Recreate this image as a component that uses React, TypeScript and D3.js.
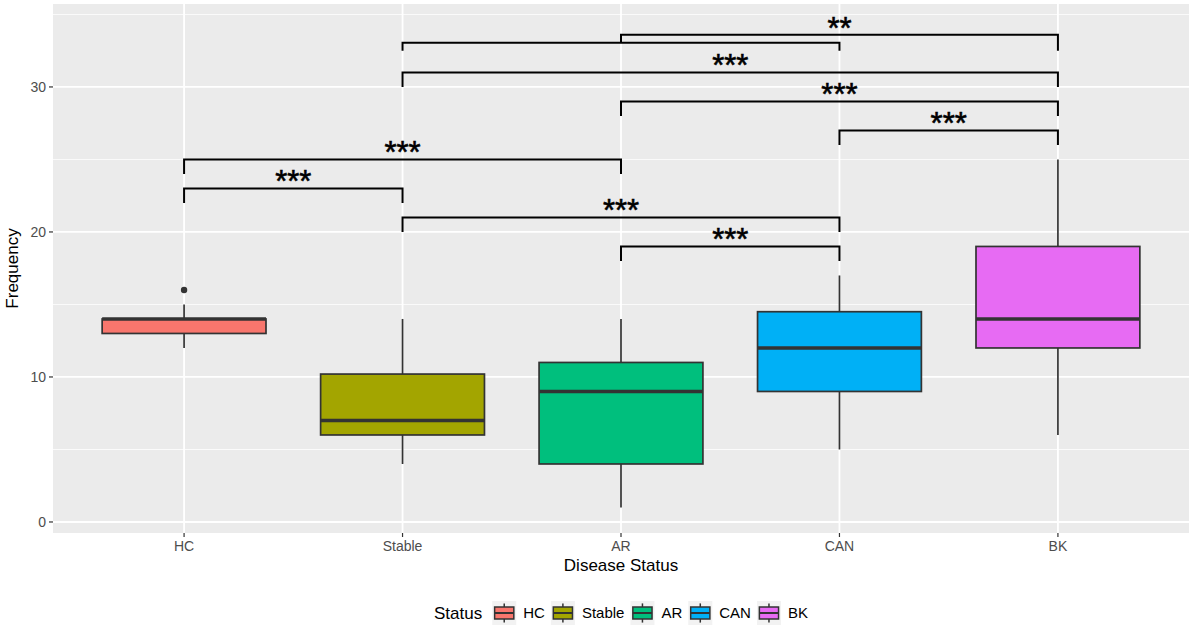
import { useRef, useEffect } from 'react';
import * as d3 from 'd3';

const categories = ['HC', 'Stable', 'AR', 'CAN', 'BK'];
const boxColors = ['#F8766D', '#A3A500', '#00BF7D', '#00B0F6', '#E76BF3'];
const q1 = [13, 6, 4, 9, 12];
const medians = [14, 7, 9, 12, 14];
const q3 = [14, 10.2, 11, 14.5, 19];
const whiskerLow = [12, 4, 1, 5, 6];
const whiskerHigh = [15, 14, 14, 17, 25];
const outliers = [{ cat: 'HC', value: 16 }];

const majorTicks = [0, 10, 20, 30];
const minorTicks = [5, 15, 25, 35];

// significance brackets: [from, to], bar height, left/right tip ends, label
const bracketPairs = [
  ['HC', 'Stable'],
  ['HC', 'AR'],
  ['Stable', 'CAN'],
  ['AR', 'CAN'],
  ['CAN', 'BK'],
  ['AR', 'BK'],
  ['Stable', 'BK'],
  ['Stable', 'CAN'],
  ['AR', 'BK'],
];
const bracketY = [23, 25, 21, 19, 27, 29, 31, 33.05, 33.6];
const bracketTipL = [22, 24, 20, 18, 26, 28, 30, 32.5, 33.05];
const bracketTipR = [22, 24, 20, 18, 26, 28, 30, 32.5, 32.5];
const bracketLabels = ['***', '***', '***', '***', '***', '***', '***', '', '**'];

const W = 1192;
const H = 627;
const FONT = '"Liberation Sans", Arial, sans-serif';

export default function App() {
  const svgRef = useRef<SVGSVGElement>(null);

  useEffect(() => {
    document.body.style.margin = '0';
    if (!svgRef.current) return;
    const svg = d3.select(svgRef.current);
    svg.selectAll('*').remove();

    const left = 53, right = 1189, top = 4, bottom = 533;

    const x = d3.scalePoint<string>().domain(categories).range([left, right]).padding(0.6);
    const y = d3.scaleLinear().domain([-0.76, 35.72]).range([bottom, top]);
    const boxW = x.step() * 0.75;

    svg.append('rect').attr('width', W).attr('height', H).attr('fill', '#fff');

    // panel
    svg.append('rect')
      .attr('x', left).attr('y', top)
      .attr('width', right - left).attr('height', bottom - top)
      .attr('fill', '#EBEBEB');

    const grid = svg.append('g');
    grid.selectAll('.minor').data(minorTicks).enter().append('line')
      .attr('x1', left).attr('x2', right)
      .attr('y1', (d) => y(d)).attr('y2', (d) => y(d))
      .attr('stroke', '#fff').attr('stroke-width', 0.8);
    grid.selectAll('.major').data(majorTicks).enter().append('line')
      .attr('x1', left).attr('x2', right)
      .attr('y1', (d) => y(d)).attr('y2', (d) => y(d))
      .attr('stroke', '#fff').attr('stroke-width', 1.8);
    grid.selectAll('.vmajor').data(categories).enter().append('line')
      .attr('x1', (d) => x(d)!).attr('x2', (d) => x(d)!)
      .attr('y1', top).attr('y2', bottom)
      .attr('stroke', '#fff').attr('stroke-width', 1.8);

    // boxes
    const data = categories.map((c, i) => ({
      cat: c, color: boxColors[i], q1: q1[i], med: medians[i], q3: q3[i],
      lo: whiskerLow[i], hi: whiskerHigh[i],
    }));
    const boxes = svg.append('g');
    const bg = boxes.selectAll('g').data(data).enter().append('g');
    bg.append('line')
      .attr('x1', (d) => x(d.cat)!).attr('x2', (d) => x(d.cat)!)
      .attr('y1', (d) => y(d.q3)).attr('y2', (d) => y(d.hi))
      .attr('stroke', '#333').attr('stroke-width', 1.7);
    bg.append('line')
      .attr('x1', (d) => x(d.cat)!).attr('x2', (d) => x(d.cat)!)
      .attr('y1', (d) => y(d.q1)).attr('y2', (d) => y(d.lo))
      .attr('stroke', '#333').attr('stroke-width', 1.7);
    bg.append('rect')
      .attr('x', (d) => x(d.cat)! - boxW / 2)
      .attr('y', (d) => y(d.q3))
      .attr('width', boxW)
      .attr('height', (d) => y(d.q1) - y(d.q3))
      .attr('fill', (d) => d.color)
      .attr('stroke', '#333').attr('stroke-width', 1.7);
    bg.append('line')
      .attr('x1', (d) => x(d.cat)! - boxW / 2).attr('x2', (d) => x(d.cat)! + boxW / 2)
      .attr('y1', (d) => y(d.med)).attr('y2', (d) => y(d.med))
      .attr('stroke', '#333').attr('stroke-width', 3.4);

    boxes.selectAll('.outlier').data(outliers).enter().append('circle')
      .attr('cx', (d) => x(d.cat)!).attr('cy', (d) => y(d.value))
      .attr('r', 3.2).attr('fill', '#333');

    // brackets
    const br = svg.append('g');
    bracketPairs.forEach(([a, b], i) => {
      const xa = x(a)!, xb = x(b)!;
      const path = d3.path();
      path.moveTo(xa, y(bracketTipL[i]));
      path.lineTo(xa, y(bracketY[i]));
      path.lineTo(xb, y(bracketY[i]));
      path.lineTo(xb, y(bracketTipR[i]));
      br.append('path')
        .attr('d', path.toString())
        .attr('fill', 'none').attr('stroke', '#000').attr('stroke-width', 2);
      if (bracketLabels[i]) {
        br.append('text')
          .attr('x', (xa + xb) / 2).attr('y', y(bracketY[i]) + 4)
          .attr('text-anchor', 'middle')
          .attr('font-family', FONT).attr('font-size', 31)
          .attr('fill', '#000').attr('stroke', '#000').attr('stroke-width', 0.6)
          .text(bracketLabels[i]);
      }
    });

    // axes
    const ax = svg.append('g').attr('font-family', FONT);
    ax.selectAll('.yt').data(majorTicks).enter().append('line')
      .attr('x1', left - 4).attr('x2', left)
      .attr('y1', (d) => y(d)).attr('y2', (d) => y(d))
      .attr('stroke', '#333').attr('stroke-width', 1.2);
    ax.selectAll('.yl').data(majorTicks).enter().append('text')
      .attr('x', left - 7).attr('y', (d) => y(d) + 5)
      .attr('text-anchor', 'end').attr('font-size', 14).attr('fill', '#4D4D4D')
      .text((d) => d);
    ax.selectAll('.xt').data(categories).enter().append('line')
      .attr('x1', (d) => x(d)!).attr('x2', (d) => x(d)!)
      .attr('y1', bottom).attr('y2', bottom + 4)
      .attr('stroke', '#333').attr('stroke-width', 1.2);
    ax.selectAll('.xl').data(categories).enter().append('text')
      .attr('x', (d) => x(d)!).attr('y', bottom + 18)
      .attr('text-anchor', 'middle').attr('font-size', 14).attr('fill', '#4D4D4D')
      .text((d) => d);

    ax.append('text')
      .attr('x', (left + right) / 2).attr('y', 571)
      .attr('text-anchor', 'middle').attr('font-size', 17).attr('fill', '#000')
      .text('Disease Status');
    ax.append('text')
      .attr('transform', `translate(18,${(top + bottom) / 2}) rotate(-90)`)
      .attr('text-anchor', 'middle').attr('font-size', 17).attr('fill', '#000')
      .text('Frequency');

    // legend
    const lg = svg.append('g').attr('font-family', FONT);
    const key = 24;
    const ly = 613;
    const title = lg.append('text').attr('y', ly + 6).attr('font-size', 17).attr('fill', '#000').text('Status');
    const titleW = (title.node() as SVGTextElement).getComputedTextLength();
    const labels = categories.map((c) => {
      const t = lg.append('text').attr('y', ly + 5).attr('font-size', 15).attr('fill', '#000').text(c);
      return { t, w: (t.node() as SVGTextElement).getComputedTextLength() };
    });
    const total = titleW + 10 + labels.reduce((s, l) => s + key + 7 + l.w, 0) + 6 * (labels.length - 1);
    let cx = (left + right) / 2 - total / 2;
    title.attr('x', cx);
    cx += titleW + 10;
    labels.forEach((l, i) => {
      const kg = lg.append('g').attr('transform', `translate(${cx},${ly - key / 2})`);
      kg.append('rect').attr('width', key).attr('height', key).attr('fill', '#F2F2F2');
      kg.append('line').attr('x1', key / 2).attr('x2', key / 2).attr('y1', key * 0.1).attr('y2', key * 0.9)
        .attr('stroke', '#333').attr('stroke-width', 1.5);
      kg.append('rect').attr('x', key * 0.1).attr('y', key * 0.25).attr('width', key * 0.8).attr('height', key * 0.5)
        .attr('fill', boxColors[i]).attr('stroke', '#333').attr('stroke-width', 1.5);
      kg.append('line').attr('x1', key * 0.1).attr('x2', key * 0.9).attr('y1', key / 2).attr('y2', key / 2)
        .attr('stroke', '#333').attr('stroke-width', 2);
      cx += key + 7;
      l.t.attr('x', cx);
      cx += l.w + 6;
    });
  }, []);

  return <svg ref={svgRef} width={W} height={H} style={{ display: 'block' }} />;
}
